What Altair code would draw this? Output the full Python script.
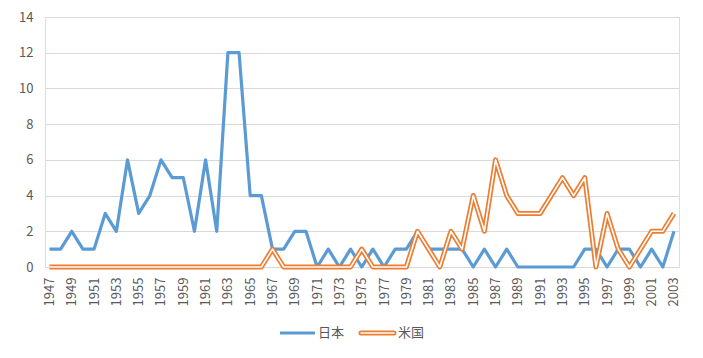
import altair as alt
import pandas as pd

years = list(range(1947, 2004))
japan = [1, 1, 2, 1, 1, 3, 2, 6, 3, 4, 6, 5, 5, 2, 6, 2, 12, 12, 4, 4,
         1, 1, 2, 2, 0, 1, 0, 1, 0, 1, 0, 1, 1, 2, 1, 1, 1, 1, 0, 1,
         0, 1, 0, 0, 0, 0, 0, 0, 1, 1, 0, 1, 1, 0, 1, 0, 2]
usa = [0, 0, 0, 0, 0, 0, 0, 0, 0, 0, 0, 0, 0, 0, 0, 0, 0, 0, 0, 0,
       1, 0, 0, 0, 0, 0, 0, 0, 1, 0, 0, 0, 0, 2, 1, 0, 2, 1, 4, 2,
       6, 4, 3, 3, 3, 4, 5, 4, 5, 0, 3, 1, 0, 1, 2, 2, 3]
series_names = ["日本", "米国"]
blue = "#5B9BD5"
orange = "#ED7D31"
grey_text = "#595959"
FONT = "Noto Sans CJK JP"

df = pd.DataFrame({"year": years, "日本": japan, "米国": usa})

W, H = 634, 250

xenc = alt.X("year:Q",
             scale=alt.Scale(domain=[1946.6, 2003.45], nice=False, zero=False),
             axis=alt.Axis(values=list(range(1947, 2004, 2)), format="d",
                           labelAngle=270, labelFontSize=13, labelColor=grey_text,
                           labelFont=FONT, ticks=False, domain=False, grid=False,
                           labelPadding=10, title=None, labelBaseline="middle",
                           labelAlign="right"))

yaxis = alt.Axis(values=list(range(0, 15, 2)), labelFontSize=13, labelColor=grey_text,
                 labelFont=FONT, ticks=False, domain=False, gridColor="#D9D9D9",
                 gridWidth=1, labelPadding=12, title=None)
yscale = alt.Scale(domain=[0, 14], nice=False)

base = alt.Chart(df)

jp_line = base.mark_line(color=blue, strokeWidth=3.2, strokeJoin="round").encode(
    x=xenc, y=alt.Y("日本:Q", scale=yscale, axis=yaxis))
us_outer = base.mark_line(color=orange, strokeWidth=5, strokeJoin="round").encode(
    x=xenc, y=alt.Y("米国:Q", scale=yscale, axis=yaxis))
us_inner = base.mark_line(color="white", strokeWidth=1.6, strokeJoin="round").encode(
    x=xenc, y=alt.Y("米国:Q", scale=yscale, axis=yaxis))

# manual legend (below the plot)
ly = 316
leg_df = pd.DataFrame({"name": series_names})
leg1 = alt.Chart(leg_df).transform_filter(alt.datum.name == series_names[0]).mark_rule(
    color=blue, strokeWidth=3.2).encode(x=alt.value(235), x2=alt.value(270), y=alt.value(ly))
leg2o = alt.Chart(leg_df).transform_filter(alt.datum.name == series_names[1]).mark_rule(
    color=orange, strokeWidth=5, strokeCap="round").encode(x=alt.value(316), x2=alt.value(349), y=alt.value(ly))
leg2i = alt.Chart(leg_df).transform_filter(alt.datum.name == series_names[1]).mark_rule(
    color="white", strokeWidth=1.6, strokeCap="round").encode(x=alt.value(316), x2=alt.value(349), y=alt.value(ly))
t1 = alt.Chart(leg_df).transform_filter(alt.datum.name == series_names[0]).mark_text(
    align="left", baseline="middle", fontSize=13, font=FONT, color=grey_text).encode(
    x=alt.value(273), y=alt.value(ly), text="name:N")
t2 = alt.Chart(leg_df).transform_filter(alt.datum.name == series_names[1]).mark_text(
    align="left", baseline="middle", fontSize=13, font=FONT, color=grey_text).encode(
    x=alt.value(353), y=alt.value(ly), text="name:N")

chart = alt.layer(jp_line, us_outer, us_inner, leg1, leg2o, leg2i, t1, t2).properties(
    width=W, height=H,
    autosize=alt.AutoSizeParams(type="none"),
    padding={"left": 37, "top": 9, "right": 16, "bottom": 80},
).configure_view(stroke=None).configure(background="white")

chart.save("out.html", embed_options={"renderer": "svg", "actions": False})
